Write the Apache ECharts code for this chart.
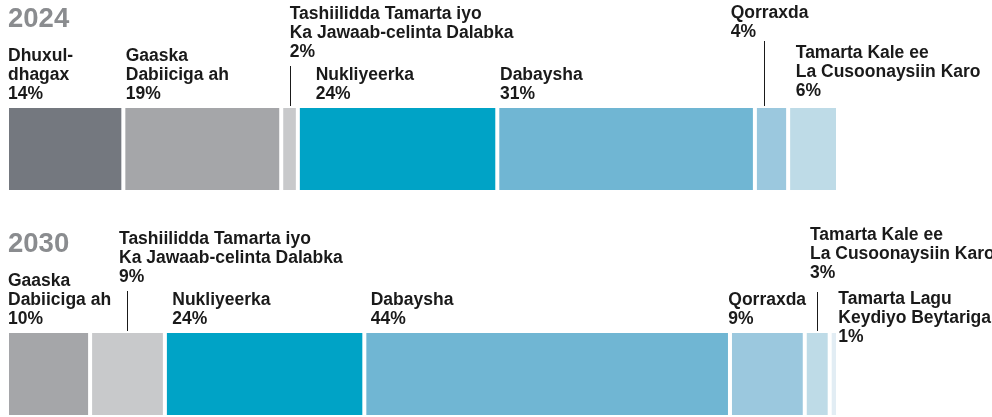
<!DOCTYPE html>
<html>
<head>
<meta charset="utf-8">
<script src="https://cdn.jsdelivr.net/npm/echarts@6/dist/echarts.min.js"></script>
<style>
  html, body { margin: 0; padding: 0; background: #fff; }
  #chart { width: 992px; height: 417px; }
</style>
</head>
<body>
<div id="chart"></div>
<script>
// data
var years = ['2024', '2030'];
var sources = [
  'Dhuxul-\ndhagax',
  'Gaaska\nDabiiciga ah',
  'Tashiilidda Tamarta iyo\nKa Jawaab-celinta Dalabka',
  'Nukliyeerka',
  'Dabaysha',
  'Qorraxda',
  'Tamarta Kale ee\nLa Cusoonaysiin Karo',
  'Tamarta Lagu\nKeydiyo Beytariga'
];
var share2024 = [14, 19, 2, 24, 31, 4, 6, 0];
var share2030 = [0, 10, 9, 24, 44, 9, 3, 1];

// styles
var colors = ['#74787f', '#a5a6a9', '#c8c9cb', '#00a3c6', '#70b6d3', '#9bc8de', '#bedbe7', '#e2edf4'];
var TXT = '#1a1a1a';
var FONT = '"Liberation Sans", Arial, sans-serif';
var BAR_W = 86;

// label offsets from the top-left of each segment, per year
var labelPos = [
  [[1, -2], [2.4, -2], [8.5, -44], [17.8, -2], [2.7, -2], [-24.2, -64], [7.6, -5], null],
  [null, [1, -2], [28.9, -44], [7.4, -2], [6.4, -2], [-1.7, -2], [5.2, -48], [8.6, 16]]
];
// leader lines: year index, source index, where along the segment, length above bar
var leaders = [
  {year: 0, idx: 2, frac: 0.5, len: 41},
  {year: 0, idx: 5, frac: 0.27, len: 66},
  {year: 1, idx: 2, frac: 0.5, len: 41},
  {year: 1, idx: 6, frac: 0.5, len: 40}
];

var chart = echarts.init(document.getElementById('chart'), null, {renderer: 'canvas'});
var shares = [share2024, share2030];

var series = sources.map(function (name, i) {
  return {
    type: 'bar',
    name: name,
    stack: 'mix',
    barWidth: BAR_W,
    itemStyle: {color: colors[i], borderColor: '#fff', borderWidth: 2},
    label: {
      show: true,
      align: 'left',
      verticalAlign: 'bottom',
      color: TXT,
      fontFamily: FONT,
      fontWeight: 'bold',
      fontSize: 17.5,
      lineHeight: 19,
      formatter: function (p) {
        return sources[p.seriesIndex] + '\n' + p.value + '%';
      }
    },
    data: shares.map(function (arr, y) {
      var v = arr[i];
      if (!v) return '-';
      return {value: v, label: {position: labelPos[y][i]}};
    })
  };
});

var option = {
  animation: false,
  backgroundColor: '#fff',
  grid: {left: 7, right: 154, top: 36.5, height: 450, outerBoundsMode: 'none'},
  xAxis: {type: 'value', min: 0, max: 100, show: false},
  yAxis: {
    type: 'category',
    data: years,
    inverse: true,
    axisLine: {show: false},
    axisTick: {show: false},
    splitLine: {show: false},
    axisLabel: {
      inside: true,
      margin: 1,
      verticalAlign: 'bottom',
      padding: [0, 0, 116, 0],
      color: '#8a8c8f',
      fontFamily: FONT,
      fontWeight: 'bold',
      fontSize: 27.5,
      lineHeight: 28
    }
  },
  series: series
};
chart.setOption(option);

// leader lines placed from the axes
var lines = leaders.map(function (l) {
  var vals = shares[l.year];
  var start = 0;
  for (var k = 0; k < l.idx; k++) start += vals[k];
  var pt = chart.convertToPixel({gridIndex: 0}, [start + vals[l.idx] * l.frac, l.year]);
  var x = Math.round(pt[0]) + 0.5;
  var top = pt[1] - BAR_W / 2 + 1;
  return {
    type: 'line',
    silent: true,
    shape: {x1: x, y1: top - l.len, x2: x, y2: top},
    style: {stroke: TXT, lineWidth: 1}
  };
});
chart.setOption({graphic: lines});
</script>
</body>
</html>
